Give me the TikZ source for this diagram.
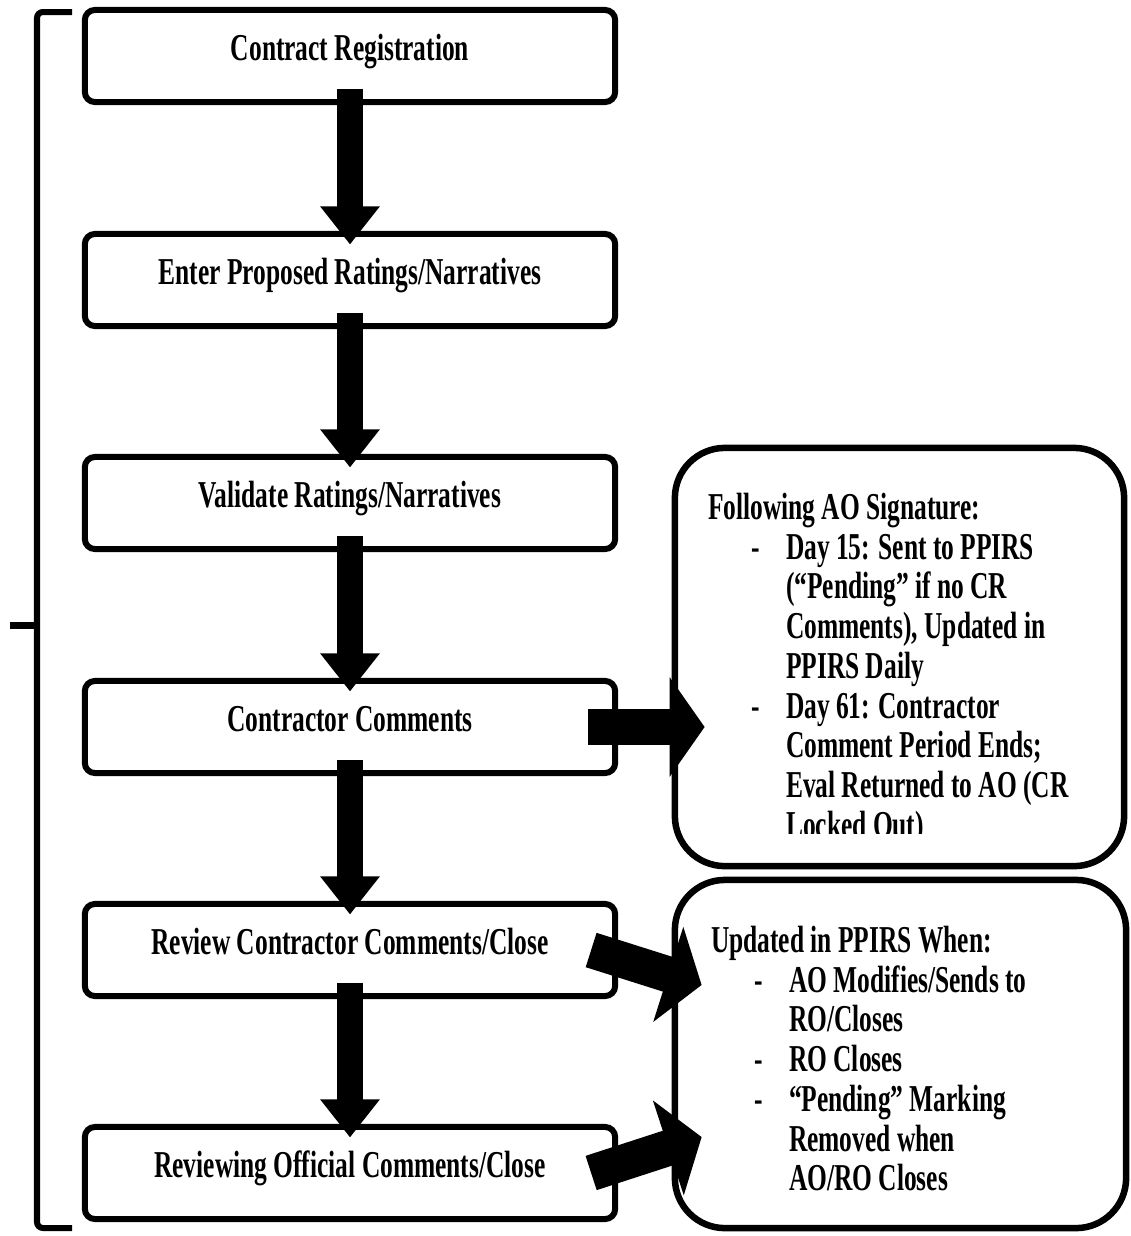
\documentclass[tikz,border=0pt]{standalone}
\usepackage{fontspec}
\setmainfont[FakeStretch=0.67]{Liberation Serif}
\usetikzlibrary{arrows.meta}

\newcommand\dashitem[1]{\makebox[0.78cm][l]{\hspace{0.43cm}-}#1}
\newcommand\contline[1]{\hspace*{0.78cm}#1}

\begin{document}
\begin{tikzpicture}
  [x=0.01cm,y=-0.01cm,line width=0.06cm,
   every node/.style={font=\fontsize{10.8pt}{11.3pt}\selectfont\bfseries},
   stagebox/.style={draw,rounded corners=0.1cm,minimum width=5.3cm,minimum height=0.92cm,
     text height=0.3cm,text depth=0.21cm,inner sep=0pt},
   notebox/.style={draw,line width=0.065cm,rounded corners=0.5cm,inner sep=0pt},
   notetext/.style={align=left,anchor=north west,inner sep=0pt},
   downarrow/.style={line width=0.26cm,-{Triangle[width=0.57cm,length=0.38cm]}},
   sidearrow/.style={line width=0.36cm,-{Triangle[width=0.98cm,length=0.35cm]}}]
  \useasboundingbox (0,0) rectangle (1131,1236);

  % bracket on the left
  \draw[rounded corners=0.06cm] (72,12) -| (37,1228) -- (72,1228);
  \draw[line width=0.07cm] (37,625) -- (10,625);

  % process steps
  \node[stagebox] (reg) at (350,56) {Contract Registration};
  \node[stagebox] (enter) at (350,280) {Enter Proposed Ratings/Narratives};
  \node[stagebox] (valid) at (350,503) {Validate Ratings/Narratives};
  \node[stagebox] (ccom) at (350,727) {Contractor Comments};
  \node[stagebox] (review) at (350,950) {Review Contractor Comments/Close};
  \node[stagebox] (rocom) at (350,1173) {Reviewing Official Comments/Close};

  % notes
  \node[notebox,minimum width=4.49cm,minimum height=4.18cm] (sig) at (899.5,657) {};
  \node[notebox,minimum width=4.51cm,minimum height=3.48cm] (upd) at (900.5,1054) {};

  \begin{scope}
    \clip (sig.north west) rectangle ([yshift=0.36cm]sig.south east);
    \node[notetext] (sigtext) at (705,490) {Following AO Signature:\\
      \dashitem{Day 15: Sent to PPIRS}\\
      \contline{(“Pending” if no CR}\\
      \contline{Comments), Updated in}\\
      \contline{PPIRS Daily}\\
      \dashitem{Day 61: Contractor}\\
      \contline{Comment Period Ends;}\\
      \contline{Eval Returned to AO (CR}\\
      \contline{Locked Out)}};
  \end{scope}
  \node[notetext] (updtext) at (708,923) {Updated in PPIRS When:\\
    \dashitem{AO Modifies/Sends to}\\
    \contline{RO/Closes}\\
    \dashitem{RO Closes}\\
    \dashitem{“Pending” Marking}\\
    \contline{Removed when}\\
    \contline{AO/RO Closes}};

  % arrows
  \foreach \from/\to in {reg/enter,enter/valid,valid/ccom,ccom/review,review/rocom}
    \draw[downarrow] ([yshift=0.165cm]\from.south) -- ([yshift=-0.135cm]\to.north);
  \draw[sidearrow] ([xshift=-0.3cm]ccom.east) -- ([xshift=0.33cm]ccom.east -| sig.west);
  \draw[sidearrow] ([xshift=-0.27cm]review.east) -- ([shift={(0.3cm,0.69cm)}]upd.west);
  \draw[sidearrow] ([xshift=-0.27cm]rocom.east) -- ([shift={(0.3cm,-0.83cm)}]upd.west);
\end{tikzpicture}
\end{document}
